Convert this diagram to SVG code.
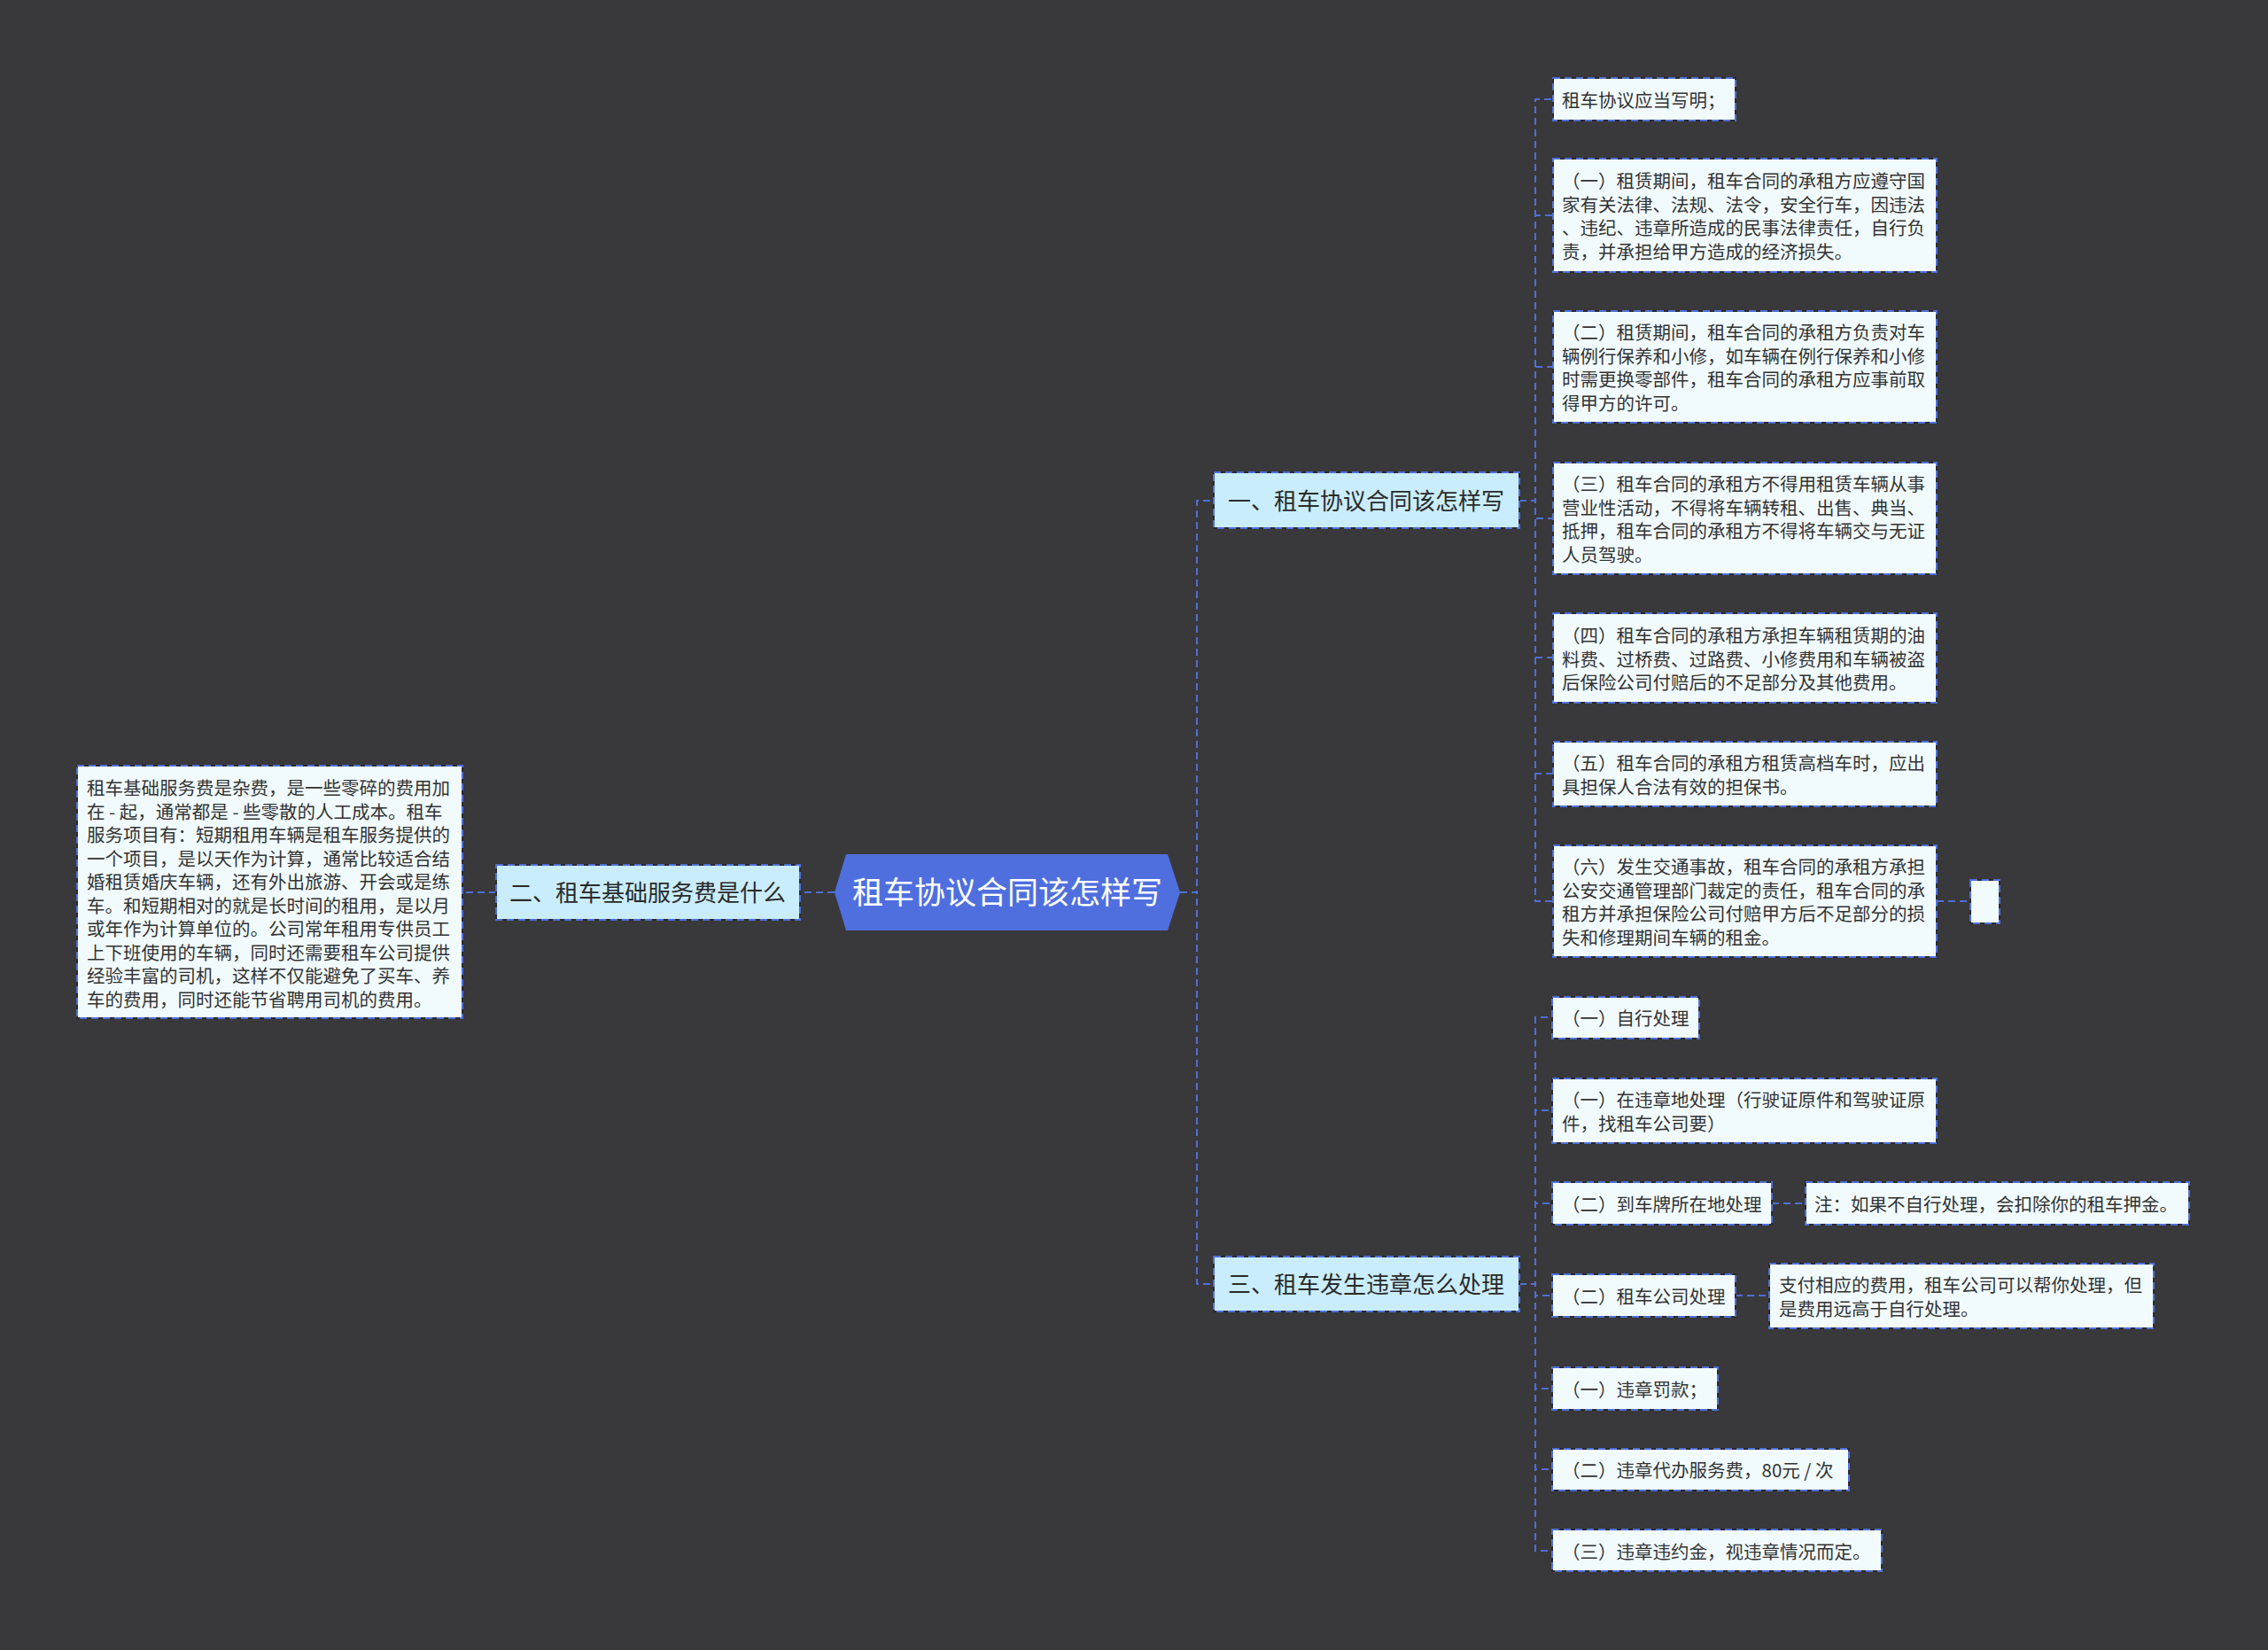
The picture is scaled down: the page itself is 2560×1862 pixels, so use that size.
<svg xmlns="http://www.w3.org/2000/svg" width="2560" height="1862" viewBox="0 0 2560 1862">
<style>
text{font-family:"Noto Sans CJK SC","Noto Sans",sans-serif;dominant-baseline:central}
.bg{fill:#39383b}
.conn{fill:none;stroke:#4f6fd6;stroke-width:2;stroke-dasharray:8 5}
.base{stroke:#2a2a2c;stroke-width:2}
.dash{fill:none;stroke:#4f6fd6;stroke-width:2;stroke-dasharray:8 5}
.l1{fill:#c9edfc}
.leaf{fill:#f1fbfe}
.t1{font-size:26px;fill:#2a2a2a;text-anchor:middle}
.tl{font-size:20.5px;fill:#333}
.tr{font-size:35px;fill:#ffffff;text-anchor:middle}
</style>
<rect class="bg" x="0" y="0" width="2560" height="1862"/>
<g id="connectors">
<path class="conn" d="M1332 1007 H1351 V565 H1370"/>
<path class="conn" d="M1332 1007 H1351 V1449 H1370"/>
<path class="conn" d="M942 1007 H904"/>
<path class="conn" d="M560 1007 H523"/>
<path class="conn" d="M1715 565 H1733 V112 H1753"/>
<path class="conn" d="M1715 565 H1733 V243 H1753"/>
<path class="conn" d="M1715 565 H1733 V414 H1753"/>
<path class="conn" d="M1715 565 H1733 V585 H1753"/>
<path class="conn" d="M1715 565 H1733 V742 H1753"/>
<path class="conn" d="M1715 565 H1733 V873 H1753"/>
<path class="conn" d="M1715 565 H1733 V1017 H1753"/>
<path class="conn" d="M2186 1017 H2224"/>
<path class="conn" d="M1715 1449 H1733 V1148 H1752"/>
<path class="conn" d="M1715 1449 H1733 V1253 H1752"/>
<path class="conn" d="M1715 1449 H1733 V1358 H1752"/>
<path class="conn" d="M1715 1449 H1733 V1462 H1752"/>
<path class="conn" d="M1715 1449 H1733 V1567 H1752"/>
<path class="conn" d="M1715 1449 H1733 V1658 H1752"/>
<path class="conn" d="M1715 1449 H1733 V1750 H1752"/>
<path class="conn" d="M2000 1358 H2038"/>
<path class="conn" d="M1959 1462 H1997"/>
</g>
<g id="root">
<polygon points="942,1007 955,964 1318,964 1332,1007 1318,1050 955,1050" fill="#4f6fdf"/>
<text class="tr" x="1137" y="1004">租车协议合同该怎样写</text>
</g>
<g id="n1">
<rect class="l1 base" x="1370" y="533" width="345" height="63"/>
<rect class="dash" x="1370" y="533" width="345" height="63"/>
<text class="t1" x="1542" y="563">一、租车协议合同该怎样写</text>
</g>
<g id="n2">
<rect class="l1 base" x="560" y="976" width="343" height="62"/>
<rect class="dash" x="560" y="976" width="343" height="62"/>
<text class="t1" x="731" y="1005">二、租车基础服务费是什么</text>
</g>
<g id="n3">
<rect class="l1 base" x="1370" y="1418" width="345" height="62"/>
<rect class="dash" x="1370" y="1418" width="345" height="62"/>
<text class="t1" x="1542" y="1447">三、租车发生违章怎么处理</text>
</g>
<g id="n2-leaf">
<rect class="leaf base" x="87" y="864" width="435" height="285"/>
<rect class="dash" x="87" y="864" width="435" height="285"/>
<text class="tl" x="98"><tspan x="98" y="888">租车基础服务费是杂费，是一些零碎的费用加</tspan><tspan x="98" y="914.5">在 - 起，通常都是 - 些零散的人工成本。租车</tspan><tspan x="98" y="941">服务项目有：短期租用车辆是租车服务提供的</tspan><tspan x="98" y="967.5">一个项目，是以天作为计算，通常比较适合结</tspan><tspan x="98" y="994">婚租赁婚庆车辆，还有外出旅游、开会或是练</tspan><tspan x="98" y="1020.5">车。和短期相对的就是长时间的租用，是以月</tspan><tspan x="98" y="1047">或年作为计算单位的。公司常年租用专供员工</tspan><tspan x="98" y="1073.5">上下班使用的车辆，同时还需要租车公司提供</tspan><tspan x="98" y="1100">经验丰富的司机，这样不仅能避免了买车、养</tspan><tspan x="98" y="1126.5">车的费用，同时还能节省聘用司机的费用。</tspan></text>
</g>
<g id="a0">
<rect class="leaf base" x="1753" y="88" width="206" height="48"/>
<rect class="dash" x="1753" y="88" width="206" height="48"/>
<text class="tl" x="1763" y="112">租车协议应当写明；</text>
</g>
<g id="a1">
<rect class="leaf base" x="1753" y="179" width="433" height="128"/>
<rect class="dash" x="1753" y="179" width="433" height="128"/>
<text class="tl"><tspan x="1763" y="203">（一）租赁期间，租车合同的承租方应遵守国</tspan><tspan x="1763" y="229.5">家有关法律、法规、法令，安全行车，因违法</tspan><tspan x="1763" y="256">、违纪、违章所造成的民事法律责任，自行负</tspan><tspan x="1763" y="282.5">责，并承担给甲方造成的经济损失。</tspan></text>
</g>
<g id="a2">
<rect class="leaf base" x="1753" y="351" width="433" height="126"/>
<rect class="dash" x="1753" y="351" width="433" height="126"/>
<text class="tl"><tspan x="1763" y="374">（二）租赁期间，租车合同的承租方负责对车</tspan><tspan x="1763" y="400.5">辆例行保养和小修，如车辆在例行保养和小修</tspan><tspan x="1763" y="427">时需更换零部件，租车合同的承租方应事前取</tspan><tspan x="1763" y="453.5">得甲方的许可。</tspan></text>
</g>
<g id="a3">
<rect class="leaf base" x="1753" y="522" width="433" height="126"/>
<rect class="dash" x="1753" y="522" width="433" height="126"/>
<text class="tl"><tspan x="1763" y="545">（三）租车合同的承租方不得用租赁车辆从事</tspan><tspan x="1763" y="571.5">营业性活动，不得将车辆转租、出售、典当、</tspan><tspan x="1763" y="598">抵押，租车合同的承租方不得将车辆交与无证</tspan><tspan x="1763" y="624.5">人员驾驶。</tspan></text>
</g>
<g id="a4">
<rect class="leaf base" x="1753" y="692" width="433" height="101"/>
<rect class="dash" x="1753" y="692" width="433" height="101"/>
<text class="tl"><tspan x="1763" y="716">（四）租车合同的承租方承担车辆租赁期的油</tspan><tspan x="1763" y="742.5">料费、过桥费、过路费、小修费用和车辆被盗</tspan><tspan x="1763" y="769">后保险公司付赔后的不足部分及其他费用。</tspan></text>
</g>
<g id="a5">
<rect class="leaf base" x="1753" y="837" width="433" height="73"/>
<rect class="dash" x="1753" y="837" width="433" height="73"/>
<text class="tl"><tspan x="1763" y="860">（五）租车合同的承租方租赁高档车时，应出</tspan><tspan x="1763" y="886.5">具担保人合法有效的担保书。</tspan></text>
</g>
<g id="a6">
<rect class="leaf base" x="1753" y="954" width="433" height="126"/>
<rect class="dash" x="1753" y="954" width="433" height="126"/>
<text class="tl"><tspan x="1763" y="977">（六）发生交通事故，租车合同的承租方承担</tspan><tspan x="1763" y="1003.5">公安交通管理部门裁定的责任，租车合同的承</tspan><tspan x="1763" y="1030">租方并承担保险公司付赔甲方后不足部分的损</tspan><tspan x="1763" y="1056.5">失和修理期间车辆的租金。</tspan></text>
</g>
<g id="a6-empty">
<rect class="leaf base" x="2224" y="993" width="33" height="49"/>
<rect class="dash" x="2224" y="993" width="33" height="49"/>
</g>
<g id="c1">
<rect class="leaf base" x="1752" y="1125" width="166" height="47"/>
<rect class="dash" x="1752" y="1125" width="166" height="47"/>
<text class="tl" x="1763" y="1148">（一）自行处理</text>
</g>
<g id="c2">
<rect class="leaf base" x="1752" y="1217" width="434" height="73"/>
<rect class="dash" x="1752" y="1217" width="434" height="73"/>
<text class="tl"><tspan x="1763" y="1240">（一）在违章地处理（行驶证原件和驾驶证原</tspan><tspan x="1763" y="1266.5">件，找租车公司要）</tspan></text>
</g>
<g id="c3">
<rect class="leaf base" x="1752" y="1334" width="248" height="48"/>
<rect class="dash" x="1752" y="1334" width="248" height="48"/>
<text class="tl" x="1763" y="1358">（二）到车牌所在地处理</text>
</g>
<g id="c3-note">
<rect class="leaf base" x="2038" y="1334" width="433" height="48"/>
<rect class="dash" x="2038" y="1334" width="433" height="48"/>
<text class="tl" x="2048" y="1358">注：如果不自行处理，会扣除你的租车押金。</text>
</g>
<g id="c4">
<rect class="leaf base" x="1752" y="1438" width="207" height="48"/>
<rect class="dash" x="1752" y="1438" width="207" height="48"/>
<text class="tl" x="1763" y="1462">（二）租车公司处理</text>
</g>
<g id="c4-note">
<rect class="leaf base" x="1997" y="1426" width="434" height="73"/>
<rect class="dash" x="1997" y="1426" width="434" height="73"/>
<text class="tl"><tspan x="2008" y="1449">支付相应的费用，租车公司可以帮你处理，但</tspan><tspan x="2008" y="1475.5">是费用远高于自行处理。</tspan></text>
</g>
<g id="c5">
<rect class="leaf base" x="1752" y="1543" width="187" height="48"/>
<rect class="dash" x="1752" y="1543" width="187" height="48"/>
<text class="tl" x="1763" y="1567">（一）违章罚款；</text>
</g>
<g id="c6">
<rect class="leaf base" x="1752" y="1635" width="335" height="47"/>
<rect class="dash" x="1752" y="1635" width="335" height="47"/>
<text class="tl" x="1763" y="1658">（二）违章代办服务费，80元 / 次</text>
</g>
<g id="c7">
<rect class="leaf base" x="1752" y="1726" width="372" height="47"/>
<rect class="dash" x="1752" y="1726" width="372" height="47"/>
<text class="tl" x="1763" y="1750">（三）违章违约金，视违章情况而定。</text>
</g>
</svg>
